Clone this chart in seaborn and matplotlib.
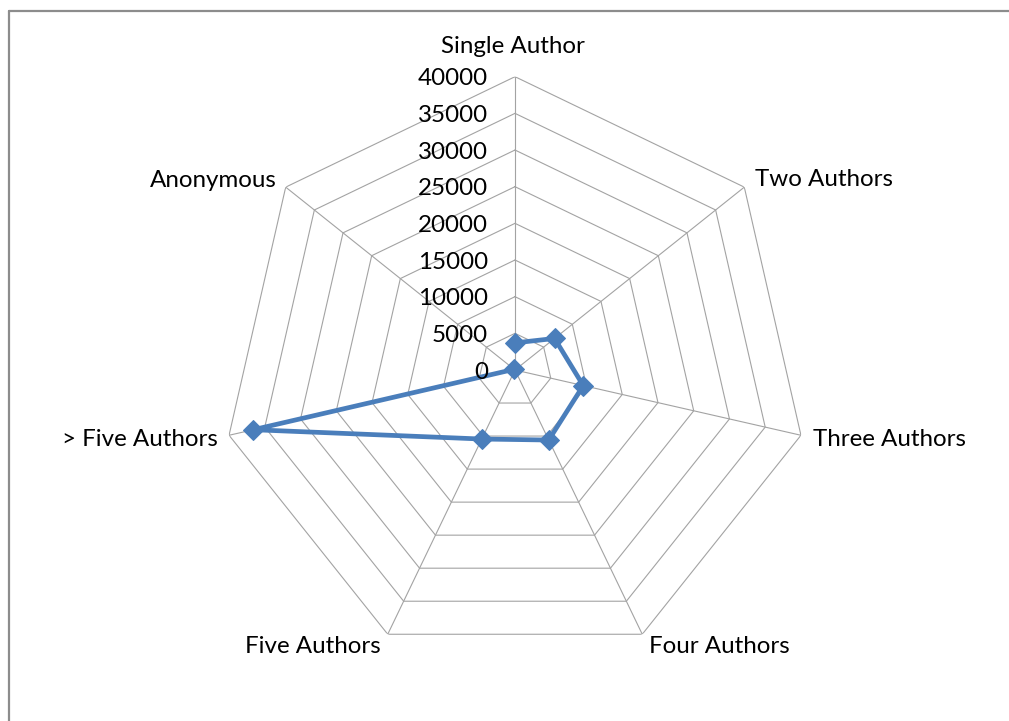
import numpy as np
import pandas as pd
import matplotlib
matplotlib.use("Agg")
import matplotlib.pyplot as plt
import matplotlib.transforms as mtransforms
from matplotlib.lines import Line2D
import seaborn as sns

# ---- data ----
categories = ["Single Author", "Two Authors", "Three Authors", "Four Authors",
              "Five Authors", "> Five Authors", "Anonymous"]
values = [3700, 6900, 9550, 10600, 10450, 36600, 150]
ring_ticks = [0, 5000, 10000, 15000, 20000, 25000, 30000, 35000, 40000]

sns.set_style("white")
plt.rcParams['font.family'] = ['Lato', 'DejaVu Sans']

W, H = 1009, 721
fig = plt.figure(figsize=(W / 100, H / 100), dpi=100)
fig.patch.set_facecolor("white")

cx, cy, R = 515, 370, 293.3
ax = fig.add_axes([(cx - R) / W, (H - cy - R) / H, 2 * R / W, 2 * R / H],
                  projection="polar")
ax.set_theta_offset(np.pi / 2)
ax.set_theta_direction(-1)
ax.set_ylim(0, ring_ticks[-1])
ax.grid(False)
ax.spines["polar"].set_visible(False)
ax.set_xticks([])
ax.set_yticks([])
ax.set_facecolor("none")

n = len(categories)
angles = np.arange(n) * 2 * np.pi / n
closed_angles = np.append(angles, angles[0])

grid_color = "#a3a3a3"
# polygon rings
for v in ring_ticks[1:]:
    ax.plot(closed_angles, [v] * (n + 1), color=grid_color, lw=0.8, zorder=1)
# spokes
for a in angles:
    ax.plot([a, a], [0, ring_ticks[-1]], color=grid_color, lw=0.8, zorder=1)

# data series
df = pd.DataFrame({"theta": np.append(angles, angles[0]),
                   "value": values + [values[0]]})
sns.lineplot(data=df, x="theta", y="value", sort=False, ax=ax,
             color="#4A7EBB", lw=3.4, marker="D", markersize=10.5,
             markeredgecolor="#4A7EBB", zorder=3)
ax.set_xlabel("")
ax.set_ylabel("")
ax.set_ylim(0, ring_ticks[-1])

fs = 17.4
# radial tick labels
for v in ring_ticks:
    tr = mtransforms.offset_copy(ax.transData, fig=fig, x=-27, y=-8.5, units="dots")
    ax.text(0, v, str(v), transform=tr, ha="right", va="baseline",
            fontsize=fs, color="black", zorder=4)

# category labels: (dx px, baseline dy px, ha)
offsets = [(-2, 24, "center"), (11, 1, "left"), (12, -10.7, "left"),
           (7, -18.7, "left"), (-7, -18.7, "right"), (-11, -10.7, "right"),
           (-9, 0, "right")]
for a, lab, (dx, dy, ha) in zip(angles, categories, offsets):
    tr = mtransforms.offset_copy(ax.transData, fig=fig, x=dx, y=dy, units="dots")
    ax.text(a, ring_ticks[-1], lab, transform=tr, ha=ha, va="baseline",
            fontsize=fs, color="black")

# chart frame (only left and top edges visible)
fx, fy = 8.5 / W, (H - 10.5) / H
fig.lines.append(Line2D([fx, fx], [-0.1, fy], transform=fig.transFigure,
                        color="#8c8c8c", lw=1.6))
fig.lines.append(Line2D([fx, 1.2], [fy, fy], transform=fig.transFigure,
                        color="#8c8c8c", lw=1.6))

fig.savefig("out.png", dpi=100, facecolor="white")
